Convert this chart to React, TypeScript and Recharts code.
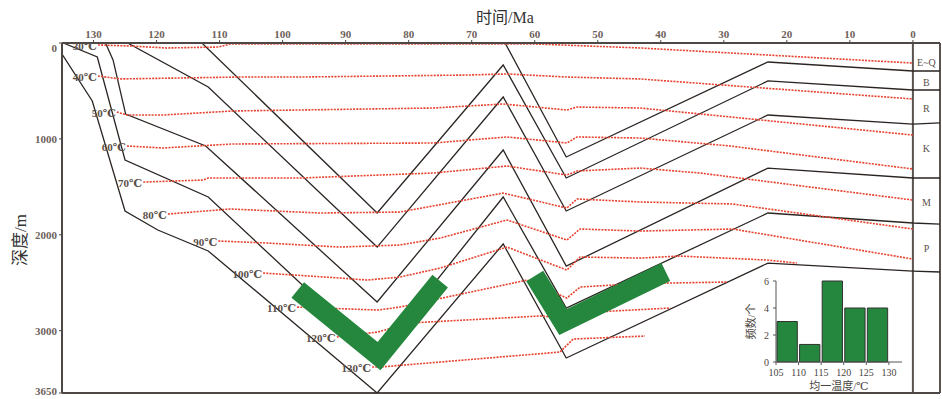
import React from 'react';
import { ComposedChart, Line, XAxis, YAxis, ReferenceLine, ReferenceDot, BarChart, Bar } from 'recharts';

// time axis (Ma) and depth axis (m)
const timeTicks = [0, 10, 20, 30, 40, 50, 60, 70, 80, 90, 100, 110, 120, 130];
const depthTicks = [0, 1000, 2000, 3000, 3650];

// burial curves, [age Ma, depth m], oldest layer first
const layerA = [[135, 115], [130.2, 605], [125, 1752], [119.8, 1950], [111.8, 2169], [85, 3650], [65, 2096], [55, 3285], [23, 2295], [0, 2378], [-4.3, 2388]];
const layerB = [[134.8, 0], [129.4, 146], [125, 1220], [111.8, 1606], [85, 3254], [65, 1606], [55, 2764], [23, 1773], [0, 1877], [-4.3, 1888]];
const layerC = [[128.1, 0], [126.9, 177], [124.9, 741], [112.2, 1074], [85, 2701], [65, 1116], [55, 2326], [23, 1304], [0, 1408], [-4.3, 1408]];
const layerD = [[124.6, 0], [111.8, 459], [85, 2128], [65, 563], [55, 1752], [23, 751], [0, 845], [-4.3, 834]];
const layerE = [[112.8, 0], [85, 1773], [65, 229], [55, 1408], [23, 396], [0, 490], [-4.3, 490]];
const layerF = [[64.7, 0], [55, 1189], [23, 198], [0, 292], [-4.3, 292]];

// isotherms
const iso30 = [[129.3, 21], [124.2, 31], [118.4, 52], [110.2, 42], [108.3, 10], [65, 10], [60, 10], [43.3, 52], [0, 209]];
const iso40 = [[129.3, 344], [125.8, 375], [107.2, 355], [97.2, 355], [70.7, 334], [64.4, 323], [54.9, 355], [43.3, 375], [0, 584]];
const iso50 = [[126.3, 720], [124.7, 751], [119, 751], [107.9, 709], [76.1, 678], [65, 636], [54.9, 699], [53.3, 668], [43.3, 678], [0, 960]];
const iso60 = [[124.7, 1074], [119, 1095], [107.9, 1053], [76.1, 1043], [64.4, 980], [54.9, 1043], [53.3, 980], [43.3, 991], [29, 1074], [0, 1314]];
const iso70 = [[122.1, 1450], [112.6, 1429], [111.8, 1408], [97.2, 1408], [76.1, 1356], [64.4, 1283], [54.9, 1377], [53.3, 1335], [43.3, 1304], [33.8, 1356], [0, 1638]];
const iso80 = [[118.2, 1784], [108.3, 1731], [94.1, 1773], [81.4, 1763], [65, 1565], [54.9, 1721], [53.3, 1627], [43.3, 1658], [28.6, 1679], [0, 1940]];
const iso90 = [[110.2, 2065], [102.5, 2086], [90.9, 2128], [81.4, 2107], [75, 2034], [64.4, 1846], [54.9, 2055], [52.8, 1940], [43.3, 1961], [28.6, 1940], [0, 2253]];
const iso100 = [[103.1, 2399], [90.9, 2451], [86.6, 2472], [81.4, 2441], [75, 2347], [64.4, 2128], [54.9, 2368], [52.8, 2232], [43.3, 2243], [37, 2222], [23.2, 2263], [18.4, 2295]];
const iso110 = [[97.7, 2754], [84.9, 2785], [81.4, 2754], [61.2, 2472], [54.9, 2660], [52.8, 2545], [47.6, 2524], [38.5, 2503], [29.5, 2493]];
const iso120 = [[91.4, 3066], [84.9, 3014], [79.8, 2920], [59.2, 2847], [54.9, 2868], [52.8, 2820], [47.6, 2795], [38.5, 2764]];
const iso130 = [[85.8, 3379], [84.5, 3379], [56, 3223], [53.9, 3087], [42.5, 3056]];
const isoTemps = [30, 40, 50, 60, 70, 80, 90, 100, 110, 120, 130];

// green V marks
const markV1 = [[97.6, 2576], [84.7, 3265], [75.0, 2483]];
const markV2 = [[60.0, 2430], [55.5, 2910], [39.2, 2388]];

// strata column
const strataNames = ['E~Q', 'B', 'R', 'K', 'M', 'P'];
const strataLabelDepth = [198, 407, 678, 1095, 1658, 2138];

// homogenization temperature histogram
const binMids = [107.5, 112.5, 117.5, 122.5, 127.5];
const binCounts = [3, 1.3, 6, 4, 4];
const histTicks = [105, 110, 115, 120, 125, 130];
const countTicks = [0, 2, 4, 6];

const toPts = (arr: number[][]) => arr.map(([t, d]) => ({ t, d }));
const layers = [layerA, layerB, layerC, layerD, layerE, layerF];
const isotherms = [iso30, iso40, iso50, iso60, iso70, iso80, iso90, iso100, iso110, iso120, iso130];
const histData = binMids.map((mid, i) => ({ mid, count: binCounts[i] }));

const SERIF = '"Liberation Serif", "DejaVu Serif", "Noto Sans CJK SC", serif';
const tickStyle = { fontSize: 11, fill: '#6e625b', fontFamily: SERIF, fontWeight: 'bold' as const };
const insetTick = { fontSize: 10, fill: '#4a4440', fontFamily: SERIF };

const DepthTick = (props: any) => {
  const { x, y, payload } = props;
  const shift = payload.value === 0 ? 5 : payload.value === 3650 ? -2 : 0;
  return (
    <text x={x} y={y + shift + 4} textAnchor="end" {...tickStyle}>
      {payload.value}
    </text>
  );
};

const isoLabel = (temp: number) => (p: any) => {
  if (p.index !== 0) return <g key={`iso${temp}-${p.index}`} />;
  return (
    <text key={`iso${temp}-lbl`} x={p.cx - 1} y={p.cy + 5} textAnchor="end" fontSize={11} fill="#5b504a" fontFamily={SERIF} fontWeight="bold">
      {temp}℃
    </text>
  );
};

const App: React.FC = () => {
  return (
    <div style={{ position: 'absolute', left: 0, top: 0, width: 942, height: 399, background: '#fff', fontFamily: SERIF }}>
      <ComposedChart width={942} height={399} margin={{ top: 23, right: 2, bottom: 6, left: 22 }}>
        <XAxis
          type="number"
          dataKey="t"
          orientation="top"
          domain={[-4.3, 135]}
          reversed
          allowDataOverflow
          ticks={timeTicks}
          interval={0}
          height={20}
          tickSize={3}
          tickMargin={2}
          tick={tickStyle}
          axisLine={{ stroke: '#4d4845', strokeWidth: 2 }}
          tickLine={{ stroke: '#4d4845' }}
        />
        <YAxis
          type="number"
          dataKey="d"
          domain={[0, 3650]}
          reversed
          allowDataOverflow
          ticks={depthTicks}
          interval={0}
          width={40}
          tickSize={3}
          tickMargin={2}
          tick={<DepthTick />}
          axisLine={{ stroke: '#4d4845', strokeWidth: 2 }}
          tickLine={{ stroke: '#4d4845' }}
        />
        <ReferenceLine x={0} stroke="#5a5350" strokeWidth={2} />
        <ReferenceLine x={-4.3} stroke="#5a5350" strokeWidth={2} />
        <ReferenceLine y={3650} stroke="#4d4845" strokeWidth={2} />

        {layers.map((l, i) => (
          <Line
            key={`layer${i}`}
            data={toPts(l)}
            dataKey="d"
            type="linear"
            stroke="#2b2522"
            strokeWidth={1.3}
            dot={false}
            activeDot={false}
            isAnimationActive={false}
          />
        ))}

        {isotherms.map((iso, i) => (
          <Line
            key={`iso${i}`}
            data={toPts(iso)}
            dataKey="d"
            type="linear"
            stroke="#e8422e"
            strokeWidth={1.6}
            strokeDasharray="2 1.2"
            dot={isoLabel(isoTemps[i])}
            activeDot={false}
            isAnimationActive={false}
          />
        ))}

        {[markV1, markV2].map((m, i) => (
          <Line
            key={`mark${i}`}
            data={toPts(m)}
            dataKey="d"
            type="linear"
            stroke="#24873d"
            strokeWidth={20}
            strokeLinejoin="miter"
            strokeLinecap="butt"
            dot={false}
            activeDot={false}
            isAnimationActive={false}
          />
        ))}

        {strataNames.map((name, i) => (
          <ReferenceDot
            key={name}
            x={-2.15}
            y={strataLabelDepth[i]}
            r={0}
            fill="none"
            stroke="none"
            label={{ value: name, position: 'center', fontSize: 10, fill: '#5b504a', fontFamily: SERIF }}
          />
        ))}
      </ComposedChart>

      <div style={{ position: 'absolute', left: 472, top: 4, width: 66, textAlign: 'center', fontSize: 16, color: '#333', whiteSpace: 'nowrap' }}>
        时间/Ma
      </div>
      <div
        style={{
          position: 'absolute',
          left: 18,
          top: 240,
          transform: 'translate(-50%, -50%) rotate(-90deg)',
          fontSize: 17,
          color: '#333',
          whiteSpace: 'nowrap',
        }}
      >
        深度/m
      </div>

      <div style={{ position: 'absolute', left: 730, top: 270 }}>
        <BarChart width={180} height={125} data={histData} margin={{ top: 11, right: 8, bottom: 3, left: 16 }}>
          <XAxis
            type="number"
            dataKey="mid"
            domain={[105, 132.9]}
            allowDataOverflow
            ticks={histTicks}
            interval={0}
            height={30}
            tickSize={3}
            tickMargin={4}
            tick={insetTick}
            axisLine={{ stroke: '#555' }}
            tickLine={{ stroke: '#555' }}
            label={{ value: '均一温度/℃', position: 'insideBottom', offset: 2, fontSize: 11, fill: '#4a4440' }}
          />
          <YAxis
            type="number"
            domain={[0, 6]}
            ticks={countTicks}
            interval={0}
            width={30}
            tickSize={3}
            tickMargin={4}
            tick={insetTick}
            axisLine={{ stroke: '#555' }}
            tickLine={{ stroke: '#555' }}
            label={{ value: '频数/个', angle: -90, position: 'insideLeft', offset: 5, fontSize: 11, fill: '#4a4440', style: { textAnchor: 'middle' } }}
          />
          <Bar dataKey="count" barSize={22.6} fill="#24873d" stroke="#333" strokeWidth={1} isAnimationActive={false} />
        </BarChart>
      </div>
    </div>
  );
};

export default App;
